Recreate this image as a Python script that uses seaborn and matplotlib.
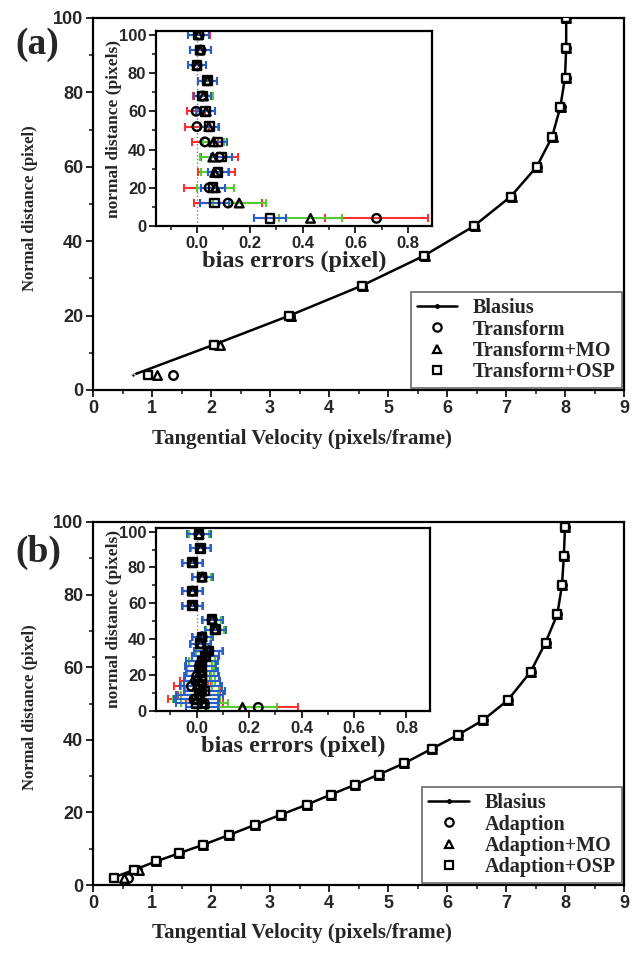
import matplotlib
matplotlib.use("Agg")
import matplotlib.pyplot as plt
import seaborn as sns
from matplotlib.lines import Line2D
from matplotlib.ticker import MultipleLocator

# ---- panel (a) main profile ----
a_y = [4, 12, 20, 28, 36, 44, 52, 60, 68, 76, 84, 92, 100]
a_blasius_x = [0.67, 2.02, 3.33, 4.55, 5.60, 6.45, 7.08, 7.52, 7.78, 7.92, 8.00, 8.02, 8.02]
a_transform_x = [1.35, 2.08, 3.34, 4.56, 5.61, 6.46, 7.09, 7.52, 7.78, 7.93, 8.01, 8.02, 8.02]
a_mo_x = [1.08, 2.15, 3.35, 4.57, 5.62, 6.47, 7.10, 7.53, 7.79, 7.93, 8.01, 8.02, 8.02]
a_osp_x = [0.94, 2.05, 3.33, 4.56, 5.61, 6.46, 7.08, 7.52, 7.78, 7.92, 8.01, 8.02, 8.02]

# ---- panel (a) inset: bias errors ----
a_bias_transform = [0.68, 0.118, 0.046, 0.075, 0.085, 0.030, 0.000, -0.003, 0.020, 0.040, 0.000, 0.015, 0.008]
a_err_transform = [0.196, 0.13, 0.095, 0.07, 0.07, 0.05, 0.045, 0.035, 0.035, 0.035, 0.035, 0.04, 0.04]
a_bias_mo = [0.43, 0.160, 0.070, 0.067, 0.060, 0.063, 0.045, 0.035, 0.025, 0.040, 0.000, 0.012, 0.006]
a_err_mo = [0.12, 0.10, 0.07, 0.05, 0.05, 0.04, 0.035, 0.035, 0.035, 0.035, 0.035, 0.04, 0.04]
a_bias_osp = [0.277, 0.067, 0.060, 0.080, 0.093, 0.080, 0.048, 0.032, 0.022, 0.040, 0.000, 0.012, 0.006]
a_err_osp = [0.06, 0.055, 0.045, 0.04, 0.04, 0.035, 0.035, 0.035, 0.033, 0.035, 0.035, 0.04, 0.04]

# ---- panel (b) main profile ----
b_y = [2.0, 4.2, 6.5, 8.7, 11.1, 13.8, 16.6, 19.4, 22.1, 24.9, 27.6, 30.4, 33.5,
       37.5, 41.3, 45.4, 50.9, 58.8, 66.8, 74.6, 82.7, 90.6, 98.5]
b_blasius_x = [0.34, 0.70, 1.07, 1.45, 1.87, 2.31, 2.75, 3.19, 3.62, 4.03, 4.44, 4.84, 5.27,
               5.74, 6.18, 6.61, 7.03, 7.42, 7.67, 7.87, 7.95, 7.98, 8.00]
b_adaption_x = [0.59, 0.75, 1.07, 1.45, 1.87, 2.31, 2.75, 3.19, 3.62, 4.03, 4.44, 4.84, 5.27,
                5.74, 6.18, 6.61, 7.03, 7.42, 7.67, 7.87, 7.95, 7.98, 8.00]
b_mo_x = [0.53, 0.78, 1.07, 1.45, 1.87, 2.31, 2.75, 3.19, 3.62, 4.03, 4.44, 4.84, 5.27,
          5.74, 6.18, 6.61, 7.03, 7.42, 7.67, 7.87, 7.95, 7.98, 8.00]
b_osp_x = [0.35, 0.70, 1.07, 1.45, 1.87, 2.31, 2.75, 3.19, 3.62, 4.03, 4.44, 4.84, 5.27,
           5.74, 6.18, 6.61, 7.03, 7.42, 7.67, 7.87, 7.95, 7.98, 8.00]

# ---- panel (b) inset: bias errors ----
b_bias_adaption = [0.235, 0.030, -0.010, 0.010, 0.020, -0.020, -0.005, 0.000, 0.015, 0.010, 0.020, 0.034, 0.046,
                   0.015, 0.021, 0.071, 0.059, -0.016, -0.016, 0.021, -0.016, 0.015, 0.009]
b_err_adaption = [0.15, 0.07, 0.10, 0.08, 0.07, 0.065, 0.06, 0.05, 0.05, 0.05, 0.05, 0.05, 0.05,
                  0.035, 0.035, 0.035, 0.035, 0.035, 0.035, 0.035, 0.035, 0.035, 0.04]
b_bias_mo = [0.175, 0.030, 0.000, 0.010, 0.020, 0.000, 0.010, 0.005, 0.015, 0.010, 0.020, 0.034, 0.046,
             0.015, 0.021, 0.071, 0.059, -0.016, -0.016, 0.021, -0.016, 0.015, 0.009]
b_err_mo = [0.13, 0.09, 0.09, 0.07, 0.065, 0.06, 0.06, 0.05, 0.05, 0.05, 0.05, 0.05, 0.05,
            0.035, 0.035, 0.035, 0.035, 0.035, 0.035, 0.035, 0.035, 0.035, 0.04]
b_bias_osp = [0.020, 0.000, 0.000, 0.010, 0.030, 0.015, 0.020, 0.020, 0.020, 0.015, 0.020, 0.034, 0.046,
              0.015, 0.021, 0.071, 0.059, -0.016, -0.016, 0.021, -0.016, 0.015, 0.009]
b_err_osp = [0.06, 0.08, 0.085, 0.09, 0.08, 0.08, 0.07, 0.065, 0.06, 0.06, 0.06, 0.05, 0.055,
             0.04, 0.04, 0.04, 0.04, 0.04, 0.04, 0.04, 0.04, 0.04, 0.045]

sns.set_theme(style="ticks")
plt.rcParams['font.family'] = ['Liberation Sans', 'DejaVu Sans']
SERIF = {'family': 'Liberation Serif', 'weight': 'bold'}

W, H = 636, 961
fig = plt.figure(figsize=(W / 100, H / 100), dpi=100)


def box(l, t, r, b):
    return [l / W, 1 - b / H, (r - l) / W, (b - t) / H]


def style_axes(ax, xmaj, xmin, tick_size):
    for s in ax.spines.values():
        s.set_linewidth(1.6)
        s.set_color('black')
    ax.xaxis.set_major_locator(MultipleLocator(xmaj))
    ax.xaxis.set_minor_locator(MultipleLocator(xmin))
    ax.yaxis.set_major_locator(MultipleLocator(20))
    ax.yaxis.set_minor_locator(MultipleLocator(10))
    ax.tick_params(which='major', length=5, width=1.4, labelsize=tick_size, direction='out', pad=2)
    ax.tick_params(which='minor', length=3, width=1.2, direction='out')
    for lab in ax.get_xticklabels() + ax.get_yticklabels():
        lab.set_fontweight('bold')


def main_panel(ax, y, blasius, c_x, t_x, s_x, names, tag, tag_y):
    sns.lineplot(x=blasius, y=y, sort=False, estimator=None, color='black', lw=1.8,
                 marker='o', markersize=2.5, ax=ax)
    mk = dict(facecolor='white', edgecolor='black', linewidth=1.7, s=38, zorder=5, ax=ax)
    sns.scatterplot(x=c_x, y=y, marker='o', **mk)
    sns.scatterplot(x=t_x, y=y, marker='^', **mk)
    sns.scatterplot(x=s_x, y=y, marker='s', **mk)
    ax.set_xlim(0, 9)
    ax.set_ylim(0, 100)
    style_axes(ax, 1, 0.5, 13)
    ax.set_xlabel('Tangential Velocity (pixels/frame)', fontdict=SERIF, fontsize=15)
    ax.xaxis.set_label_coords(0.394, -0.105)
    ax.set_ylabel('Normal distance (pixel)', fontdict=SERIF, fontsize=12)
    ax.yaxis.set_label_coords(-0.104, 0.49)
    handles = [Line2D([], [], color='black', lw=1.8, marker='o', markersize=2.5, label='Blasius')]
    for m, n in zip(['o', '^', 's'], names):
        handles.append(Line2D([], [], ls='none', marker=m, mfc='white', mec='black', mew=1.6,
                              ms=6, label=n))
    leg = ax.legend(handles=handles, loc='lower right', prop={'family': 'Liberation Serif',
                    'weight': 'bold', 'size': 14.5}, frameon=True, fancybox=False,
                    handlelength=2.0, borderaxespad=0.1, labelspacing=0.06, borderpad=0.3)
    leg.get_frame().set_edgecolor('#444444')
    leg.get_frame().set_linewidth(1.2)
    ax.text(-0.146, tag_y, tag, transform=ax.transAxes, fontdict=SERIF, fontsize=27, va='center')


def inset_panel(ax, y, xs, errs):
    ax.axvline(0, color='gray', ls=':', lw=1.0, zorder=1)
    for x, e, c in zip(xs, errs, ['#ff3030', '#55cc33', '#2a5fc8']):
        ax.errorbar(x, y, xerr=e, fmt='none', ecolor=c, elinewidth=1.5, capsize=3,
                    capthick=1.5, zorder=2)
    mk = dict(facecolor='none', edgecolor='black', linewidth=1.7, s=38, zorder=5, ax=ax)
    for x, m in zip(xs[::-1], ['s', '^', 'o']):
        sns.scatterplot(x=x, y=y, marker=m, **mk)
    ax.set_xlim(-0.155, 0.89)
    ax.set_ylim(0, 102)
    style_axes(ax, 0.2, 0.1, 12)
    ax.set_xlabel('bias errors (pixel)', fontdict=SERIF, fontsize=17.5, labelpad=0)
    ax.set_ylabel('normal distance (pixels)', fontdict=SERIF, fontsize=12.5)
    ax.yaxis.set_label_coords(-0.125, 0.5)


ax_a = fig.add_axes(box(93, 18, 624, 390))
main_panel(ax_a, a_y, a_blasius_x, a_transform_x, a_mo_x, a_osp_x,
           ['Transform', 'Transform+MO', 'Transform+OSP'], '(a)', 0.93)
in_a = fig.add_axes(box(156, 31, 432, 226))
inset_panel(in_a, a_y, [a_bias_transform, a_bias_mo, a_bias_osp],
            [a_err_transform, a_err_mo, a_err_osp])

ax_b = fig.add_axes(box(93, 522, 624, 885))
main_panel(ax_b, b_y, b_blasius_x, b_adaption_x, b_mo_x, b_osp_x,
           ['Adaption', 'Adaption+MO', 'Adaption+OSP'], '(b)', 0.915)
in_b = fig.add_axes(box(156, 528, 430, 711))
inset_panel(in_b, b_y, [b_bias_adaption, b_bias_mo, b_bias_osp],
            [b_err_adaption, b_err_mo, b_err_osp])

fig.savefig('out.png', dpi=100, facecolor='white')
